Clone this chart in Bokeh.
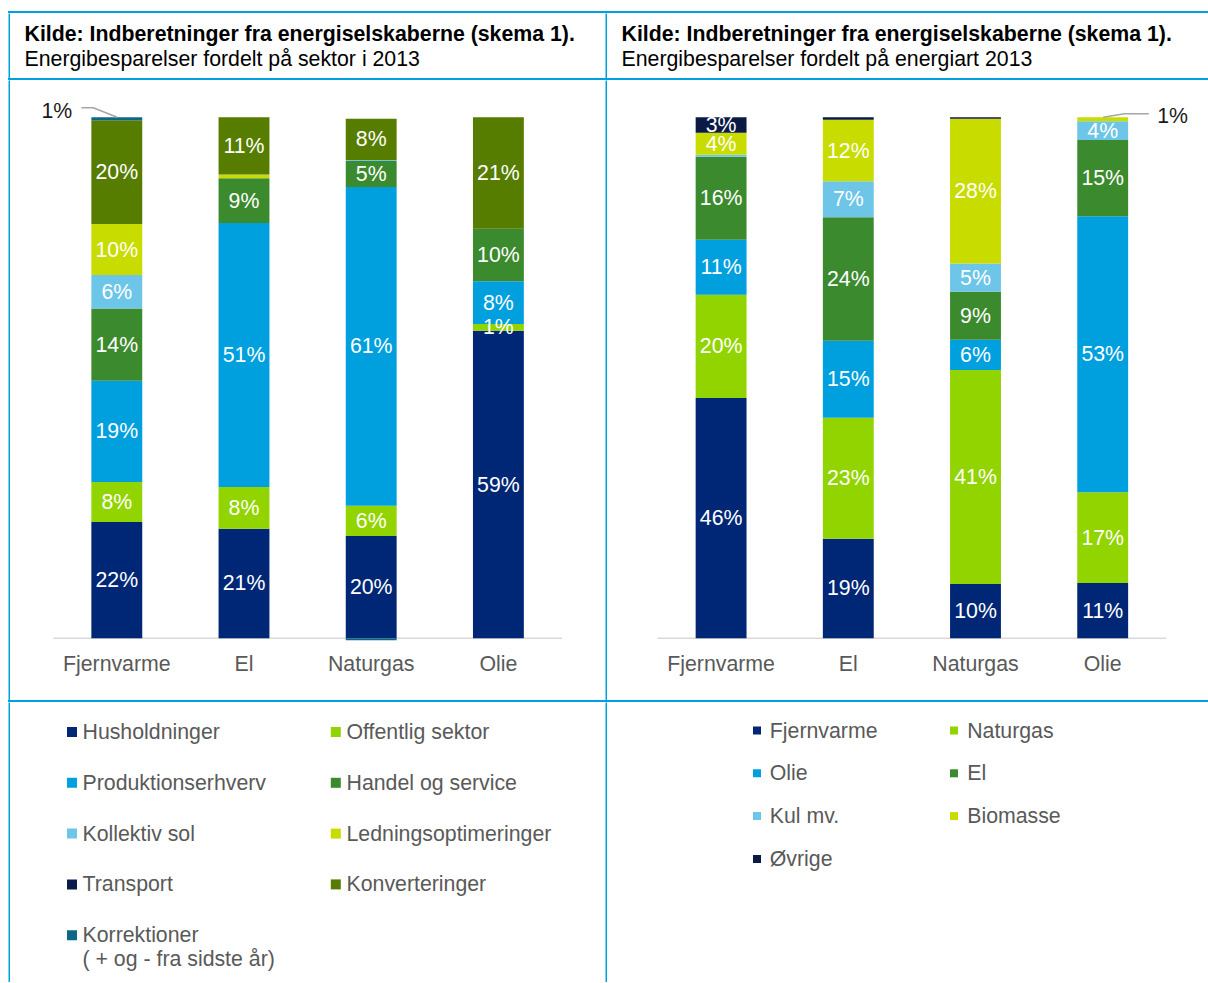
import numpy as np
from bokeh.plotting import figure
from bokeh.layouts import column, row
from bokeh.models import Range1d, Spacer, Div
from bokeh.core.properties import value
from bokeh.embed import file_html
from bokeh.resources import INLINE

# ---------------- data ----------------
utilities = ["Fjernvarme", "El", "Naturgas", "Olie"]

# Left chart: savings by sector (percent of each utility's total)
sector_names = ["Husholdninger", "Offentlig sektor", "Produktionserhverv",
                "Handel og service", "Kollektiv sol", "Ledningsoptimeringer",
                "Transport", "Konverteringer",
                "Korrektioner\n( + og - fra sidste år)"]
husholdninger = [22.3, 21.0, 19.6, 59.0]
offentlig_sektor = [7.7, 8.0, 5.8, 1.3]
produktionserhverv = [19.4, 50.7, 61.2, 8.2]
handel_og_service = [13.9, 8.6, 5.0, 10.1]
kollektiv_sol = [6.4, 0.0, 0.2, 0.0]
ledningsoptimeringer = [9.8, 0.7, 0.0, 0.0]
transport = [0.0, 0.0, 0.0, 0.0]
konverteringer = [19.9, 11.0, 7.9, 21.4]
korrektioner = [0.6, 0.0, -0.4, 0.0]

husholdninger_lbl = ["22%", "21%", "20%", "59%"]
offentlig_sektor_lbl = ["8%", "8%", "6%", "1%"]
produktionserhverv_lbl = ["19%", "51%", "61%", "8%"]
handel_og_service_lbl = ["14%", "9%", "5%", "10%"]
kollektiv_sol_lbl = ["6%", "", "", ""]
ledningsoptimeringer_lbl = ["10%", "", "", ""]
transport_lbl = ["", "", "", ""]
konverteringer_lbl = ["20%", "11%", "8%", "21%"]
korrektioner_lbl = ["", "", "", ""]

sector_colors = ["#002776", "#92D400", "#00A0DF", "#3C8A2E", "#6DC5E8",
                 "#C9DC00", "#0A1C4A", "#567D00", "#0F6788"]

# Right chart: savings by energy type
energy_names = ["Fjernvarme", "Naturgas", "Olie", "El", "Kul mv.", "Biomasse", "Øvrige"]
e_fjernvarme = [46.1, 19.1, 10.4, 10.6]
e_naturgas = [19.8, 23.2, 41.1, 17.4]
e_olie = [10.6, 14.8, 5.8, 53.0]
e_el = [15.9, 23.7, 9.2, 14.6]
e_kul = [0.4, 6.9, 5.4, 3.6]
e_biomasse = [4.2, 11.8, 27.8, 0.8]
e_ovrige = [3.0, 0.5, 0.3, 0.0]

e_fjernvarme_lbl = ["46%", "19%", "10%", "11%"]
e_naturgas_lbl = ["20%", "23%", "41%", "17%"]
e_olie_lbl = ["11%", "15%", "6%", "53%"]
e_el_lbl = ["16%", "24%", "9%", "15%"]
e_kul_lbl = ["", "7%", "5%", "4%"]
e_biomasse_lbl = ["4%", "12%", "28%", ""]
e_ovrige_lbl = ["3%", "", "", ""]

energy_colors = ["#002776", "#92D400", "#00A0DF", "#3C8A2E", "#6DC5E8",
                 "#C9DC00", "#0B1A45"]

# callouts: (utility, text, leader offsets px, text offset px, align)
left_callouts = [("Fjernvarme", "1%", [(0.4, 0), (-23.6, -9.4), (-35.3, -9.4)], (-44.6, -6.7), "right")]
right_callouts = [("Olie", "1%", [(0.5, 0), (21.8, -3.4), (46.1, -3.4)], (54.5, -1.7), "left")]

left_title = "Kilde: Indberetninger fra energiselskaberne (skema 1)."
left_subtitle = "Energibesparelser fordelt på sektor i 2013"
right_title = "Kilde: Indberetninger fra energiselskaberne (skema 1)."
right_subtitle = "Energibesparelser fordelt på energiart 2013"

# ---------------- style / layout ----------------
FONT = value("Liberation Sans")
FS = "21.3px"
BLUE = "#00A0E0"
GRAY_TXT = "#595959"
AXIS_GRAY = "#D9D9D9"

PAGE_OFF = 8
W_L, W_R = 595, 601
LINE = 2
HEAD_H, CHART_H, LEG_H = 65, 620, 280
TOTAL_W = LINE + W_L + LINE + W_R

PX_PER_CAT = 127.2
PX_PER_PCT = 5.21
AXIS_PX = 557.7          # baseline position from top of chart area
Y_TOP = AXIS_PX / PX_PER_PCT
Y_BOTTOM = -(CHART_H - AXIS_PX) / PX_PER_PCT
CAT_Y = -25.3 / PX_PER_PCT
BAR_W = 0.4


def base_fig(width, height, xr, yr):
    p = figure(width=width, height=height, x_range=xr, y_range=yr,
               x_axis_type=None, y_axis_type=None, toolbar_location=None,
               output_backend="svg", min_border=0, outline_line_color=None,
               background_fill_color="white", border_fill_color="white")
    return p


def vline(height):
    p = base_fig(LINE, height, Range1d(0, 1), Range1d(0, 1))
    p.background_fill_color = BLUE
    p.border_fill_color = BLUE
    return p


def hline():
    return row(Spacer(width=PAGE_OFF, height=LINE, margin=0),
               Div(text="", width=TOTAL_W, height=LINE, margin=0,
                   styles={"background-color": BLUE}))


def make_header(width, title, subtitle):
    p = base_fig(width, HEAD_H, Range1d(0, width), Range1d(HEAD_H, 0))
    p.text(x=[14], y=[20], text=[title], text_font=FONT, text_font_size=FS,
           text_font_style="bold", text_color="#000000", text_align="left",
           text_baseline="middle")
    p.text(x=[14], y=[45.5], text=[subtitle], text_font=FONT, text_font_size=FS,
           text_color="#000000", text_align="left", text_baseline="middle")
    return p


def make_chart(width, center0_px, series, colors, labels, callouts):
    start = -center0_px / PX_PER_CAT
    p = base_fig(width, CHART_H, Range1d(start, start + width / PX_PER_CAT),
                 Range1d(Y_BOTTOM, Y_TOP))
    idx = np.arange(len(utilities))
    p.segment(x0=[idx[0] - 0.5], x1=[idx[-1] + 0.5], y0=[0], y1=[0],
              line_color=AXIS_GRAY, line_width=1.5)
    vals = np.array(series, dtype=float)
    pos = np.clip(vals, 0, None)
    neg = np.clip(vals, None, 0)
    pos_top = np.cumsum(pos, axis=0)
    pos_bot = pos_top - pos
    neg_bot = np.cumsum(neg, axis=0)
    neg_top = neg_bot - neg
    bottoms = np.where(vals >= 0, pos_bot, neg_bot)
    tops = np.where(vals >= 0, pos_top, neg_top)
    for k in range(len(series)):
        p.vbar(x=idx, bottom=bottoms[k], top=tops[k], width=BAR_W,
               fill_color=colors[k], line_color=None)
    lx, ly, lt = [], [], []
    for k in range(len(series)):
        for i in idx:
            if labels[k][i]:
                lx.append(i)
                ly.append((bottoms[k][i] + tops[k][i]) / 2)
                lt.append(labels[k][i])
    p.text(x=lx, y=ly, text=lt, text_font=FONT, text_font_size=FS,
           text_color="white", text_align="center", text_baseline="middle")
    p.text(x=idx, y=[CAT_Y] * len(idx), text=utilities, text_font=FONT,
           text_font_size=FS, text_color=GRAY_TXT, text_align="center",
           text_baseline="middle")
    totals = pos_top[-1]
    for util, txt, leader, toff, align in callouts:
        i = utilities.index(util)
        top = totals[i]
        p.line(x=[i + dx / PX_PER_CAT for dx, dy in leader],
               y=[top - dy / PX_PER_PCT for dx, dy in leader],
               line_color="#A6A6A6", line_width=1.5)
        p.text(x=[i + toff[0] / PX_PER_CAT], y=[top - toff[1] / PX_PER_PCT],
               text=[txt], text_font=FONT, text_font_size=FS,
               text_color="#1A1A1A", text_align=align, text_baseline="middle")
    return p


def make_legend(width, names, colors, marker_x, text_x, y0, dy, msize):
    p = base_fig(width, LEG_H, Range1d(0, width), Range1d(LEG_H, 0))
    mx, my, tx, ty, tt = [], [], [], [], []
    for k, name in enumerate(names):
        c, r = k % 2, k // 2
        mx.append(marker_x[c])
        my.append(y0 + r * dy)
        for j, part in enumerate(name.split("\n")):
            tx.append(text_x[c])
            ty.append(y0 + r * dy + j * 24)
            tt.append(part)
    p.scatter(x=mx, y=my, marker="square", size=msize, fill_color=colors,
              line_color=None)
    p.text(x=tx, y=ty, text=tt, text_font=FONT, text_font_size=FS,
           text_color=GRAY_TXT, text_align="left", text_baseline="middle")
    return p


sector_series = [husholdninger, offentlig_sektor, produktionserhverv,
                 handel_og_service, kollektiv_sol, ledningsoptimeringer,
                 transport, konverteringer, korrektioner]
sector_labels = [husholdninger_lbl, offentlig_sektor_lbl, produktionserhverv_lbl,
                 handel_og_service_lbl, kollektiv_sol_lbl, ledningsoptimeringer_lbl,
                 transport_lbl, konverteringer_lbl, korrektioner_lbl]
energy_series = [e_fjernvarme, e_naturgas, e_olie, e_el, e_kul, e_biomasse, e_ovrige]
energy_labels = [e_fjernvarme_lbl, e_naturgas_lbl, e_olie_lbl, e_el_lbl,
                 e_kul_lbl, e_biomasse_lbl, e_ovrige_lbl]

header_l = make_header(W_L, left_title, left_subtitle)
header_r = make_header(W_R, right_title, right_subtitle)
chart_l = make_chart(W_L, 106.3, sector_series, sector_colors, sector_labels, left_callouts)
chart_r = make_chart(W_R, 113.6, energy_series, energy_colors, energy_labels, right_callouts)
legend_l = make_legend(W_L, sector_names, sector_colors, [61.5, 325.3], [72, 336], 29.5, 50.8, 10)
legend_r = make_legend(W_R, energy_names, energy_colors, [149.5, 346.5], [162.3, 359.7], 28, 42.8, 8)


def content_row(height, left, right):
    return row(Spacer(width=PAGE_OFF, height=height, margin=0), vline(height), left,
               vline(height), right)


layout = column(
    Spacer(width=TOTAL_W + PAGE_OFF, height=PAGE_OFF + 3, margin=0),
    hline(),
    content_row(HEAD_H, header_l, header_r),
    hline(),
    content_row(CHART_H, chart_l, chart_r),
    hline(),
    content_row(LEG_H, legend_l, legend_r),
)

with open("out.html", "w") as f:
    f.write(file_html(layout, INLINE, title="Energibesparelser 2013"))
